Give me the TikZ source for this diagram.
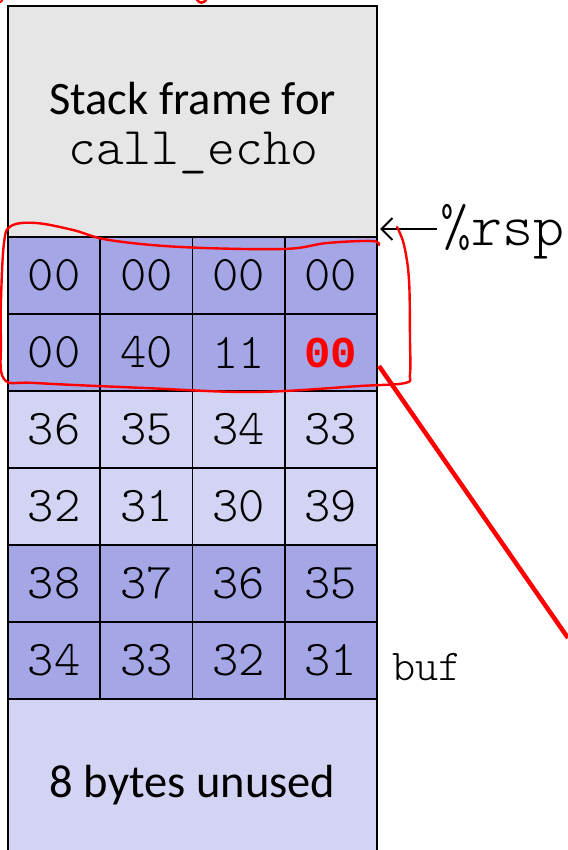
\documentclass[tikz,border=0pt]{standalone}
\usepackage{fontspec}
\setmainfont{Carlito}
\setmonofont[BoldFont=lmmonolt10-bold.otf]{lmmonolt10-regular.otf}
\newfontfamily\heavymono{Liberation Mono}
\usetikzlibrary{arrows.meta}
\definecolor{gframe}{RGB}{230,230,230}
\definecolor{bdark}{RGB}{164,166,230}
\definecolor{blight}{RGB}{211,211,243}
\definecolor{rmark}{RGB}{255,0,0}
\begin{document}
\begin{tikzpicture}[x=1pt,y=-1pt,
  cell/.style={draw=black, line width=1.8pt, minimum width=92.25pt, minimum height=77pt,
    inner sep=0pt, font=\ttfamily\fontsize{50}{58}\selectfont},
  bigtxt/.style={font=\fontsize{46.5}{56}\selectfont, inner sep=0pt},
  montxt/.style={font=\ttfamily\fontsize{53}{60}\selectfont, inner sep=0pt},
  redpen/.style={draw=rmark, line width=2.4pt, line cap=round, line join=round}]
\useasboundingbox (0,0) rectangle (567,850);
% stack frame for call_echo
\node[draw=black, line width=1.8pt, fill=gframe, minimum width=369pt, minimum height=231pt, inner sep=0pt] (frame) at (192.5,121.5) {};
\node[bigtxt, anchor=base, text height=30pt, text depth=0pt] (t1) at (192.5,115) {Stack frame for};
\node[montxt, anchor=base, text height=28pt, text depth=8pt] (t2) at (193.5,165) {call\_echo};
% cells
\foreach \r/\y/\fc/\a/\b/\c/\d in {
  1/275.5/bdark/00/00/00/00,
  2/352.5/bdark/00/40/11/{\textcolor{rmark}{\heavymono\bfseries\fontsize{44}{50}\selectfont 00}},
  3/429.5/blight/36/35/34/33,
  4/506.5/blight/32/31/30/39,
  5/583.5/bdark/38/37/36/35,
  6/660.5/bdark/34/33/32/31}{
  \node[cell, fill=\fc] (c\r a) at (54.125,\y) {\a};
  \node[cell, fill=\fc] (c\r b) at (146.375,\y) {\b};
  \node[cell, fill=\fc] (c\r c) at (238.625,\y) {\c};
  \node[cell, fill=\fc] (c\r d) at (330.875,\y) {\d};
}
% unused area
\fill[blight] (8,699) rectangle (377,850);
\draw[line width=1.8pt] (8,850) -- (8,699) -- (377,699) -- (377,850);
\node[bigtxt, anchor=base] (t3) at (192.5,797) {8 bytes unused};
% labels
\node[font=\ttfamily\fontsize{44}{50}\selectfont, inner sep=0pt, anchor=base west] (buf) at (392,680) {buf};
\node[font=\ttfamily\fontsize{59}{66}\selectfont, inner sep=0pt, anchor=base west] (rsp) at (440,245) {\%rsp};
\coordinate (rsptail) at (437,229);
\coordinate (rsptip) at (380,229);
\draw[line width=2pt, -{Straight Barb[length=11pt,width=22pt]}] (rsptail) -- (rsptip);
% red annotations
\draw[redpen] plot[smooth, tension=0.6] coordinates {
  (397,227) (404,245) (409,280) (410,340) (410,374) (405,383) (360,386)
  (254,392) (145,388) (36,383) (4,379) (1,340) (1,300) (4,243) (11,226)
  (36,223) (73,230) (109,240) (181,247) (283,249) (327,243) (372,241) (379,245)};
\coordinate (lnstart) at (379,366);
\coordinate (lnend) at (568,638);
\draw[draw=rmark, line width=4.5pt] (lnstart) -- (lnend);
\draw[redpen, line width=2pt] (0,2.5) -- (2.5,0);
\draw[redpen, line width=2.5pt] (197,0) .. controls (200,3.5) and (203,3.5) .. (206,0);
\end{tikzpicture}
\end{document}
